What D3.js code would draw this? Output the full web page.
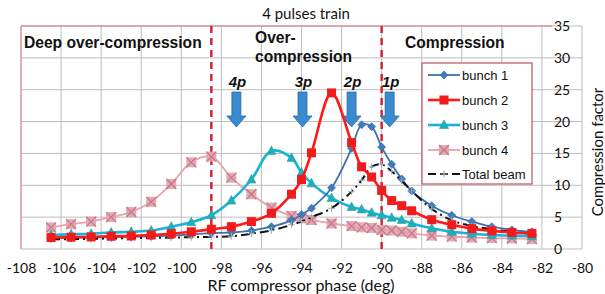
<!DOCTYPE html>
<html><head><meta charset="utf-8">
<script src="https://cdn.jsdelivr.net/npm/d3@7"></script>
<style>
body{margin:0;background:#fff;}
svg text{font-family:"Liberation Sans",Arial,sans-serif;}
</style></head>
<body><svg id="c" width="605" height="294"></svg>
<script>
const phases = [-106.5,-105.5,-104.5,-103.5,-102.5,-101.5,-100.5,-99.5,-98.5,-97.5,-96.5,-95.5,-94.5,-94,-93.5,-92.5,-91.5,-91,-90.5,-90,-89.5,-89,-88.5,-87.5,-86.5,-85.5,-84.5,-83.5,-82.5];
const bunch1 = [1.7,1.75,1.8,1.85,1.9,2.0,2.1,2.3,2.5,2.6,2.9,3.5,4.5,5.4,6.4,9.6,15.8,19.5,19.2,16.0,13.3,11.0,9.1,6.8,5.3,4.3,3.5,3.0,2.7];
const bunch2 = [1.8,1.85,1.9,2.0,2.05,2.2,2.4,2.7,3.1,3.5,4.3,5.6,8.6,10.9,15.1,24.5,16.7,12.9,11.3,9.2,7.6,6.8,6.0,4.6,3.8,3.2,2.85,2.6,2.45];
const bunch3 = [2.2,2.3,2.4,2.6,2.7,2.9,3.5,4.2,5.3,7.6,10.9,15.4,14.3,12.0,10.3,8.0,6.6,6.2,5.7,5.3,4.9,4.55,4.0,3.25,2.7,2.4,2.2,2.1,2.0];
const bunch4 = [3.4,3.9,4.3,5.0,5.8,7.4,10.2,13.6,14.5,11.2,8.6,6.5,5.2,4.8,4.55,4.0,3.6,3.4,3.3,3.0,2.9,2.7,2.45,2.1,1.95,1.8,1.7,1.65,1.55];
const totalBeam = [1.5,1.55,1.6,1.65,1.7,1.75,1.8,1.85,1.9,2.0,2.4,2.9,3.8,4.3,5.0,6.4,9.0,10.8,12.9,13.3,12.2,10.7,9.1,6.3,4.5,3.6,3.1,2.7,2.4];
const seriesNames = ["bunch 1","bunch 2","bunch 3","bunch 4","Total beam"];
const xTicks = [-108,-106,-104,-102,-100,-98,-96,-94,-92,-90,-88,-86,-84,-82,-80];
const yTicks = [0,5,10,15,20,25,30,35];
const regionLines = [-98.5,-90];
const arrowPhases = [-97.25,-93.95,-91.5,-89.6];
const arrowLabels = ["4p","3p","2p","1p"];
const chartTitle = "4 pulses train";
const xTitle = "RF compressor phase (deg)";
const yTitle = "Compression factor";

const svg = d3.select("#c");
const x = d3.scaleLinear().domain([-108,-80]).range([21,582]);
const y = d3.scaleLinear().domain([0,35]).range([249,26]);
const calib = "Lato, 'Open Sans', sans-serif";

// grid
svg.append("g").selectAll("line").data(xTicks).join("line")
  .attr("x1",d=>x(d)).attr("x2",d=>x(d)).attr("y1",y(35)).attr("y2",y(0))
  .attr("stroke","#bdbdbd").attr("stroke-width",1);
svg.append("g").selectAll("line").data(yTicks).join("line")
  .attr("x1",x(-108)).attr("x2",x(-80)).attr("y1",d=>y(d)).attr("y2",d=>y(d))
  .attr("stroke","#bdbdbd").attr("stroke-width",1);
// pink plot border
svg.append("line").attr("x1",x(-108)).attr("x2",x(-108)).attr("y1",y(35)).attr("y2",y(0)).attr("stroke","#d9969f").attr("stroke-width",1.3);
svg.append("line").attr("x1",x(-108)).attr("x2",x(-81.5)).attr("y1",y(35)).attr("y2",y(35)).attr("stroke","#d9969f").attr("stroke-width",1.3);

// axes
const xa = svg.append("g").attr("transform",`translate(0,${y(0)})`)
  .call(d3.axisBottom(x).tickValues(xTicks).tickSize(0).tickPadding(14).tickFormat(d=>String(d)));
xa.select(".domain").remove();
xa.selectAll("text").attr("font-size",14).attr("fill","#111").style("font-family",calib);
const ya = svg.append("g").attr("transform",`translate(${x(-81.5)},0)`)
  .call(d3.axisRight(y).tickValues(yTicks).tickSize(0).tickPadding(2).tickFormat(d=>String(d)));
ya.select(".domain").remove();
ya.selectAll("text").attr("font-size",14).attr("fill","#111").style("font-family",calib);

// titles
svg.append("text").attr("x",306).attr("y",19).attr("text-anchor","middle").attr("font-size",15).attr("fill","#111")
  .style("font-family",calib).text(chartTitle);
svg.append("text").attr("x",301).attr("y",291).attr("text-anchor","middle").attr("font-size",16).attr("fill","#111")
  .style("font-family",calib).text(xTitle);
svg.append("text").attr("transform","translate(603,152) rotate(-90)").attr("text-anchor","middle").attr("font-size",15).attr("fill","#111")
  .style("font-family",calib).text(yTitle);

// region labels
const reg = svg.append("g").attr("font-weight","bold").attr("font-size",15.6).attr("fill","#111");
reg.append("text").attr("x",24).attr("y",48).text("Deep over-compression");
reg.append("text").attr("x",255).attr("y",43).text("Over-");
reg.append("text").attr("x",255).attr("y",62).text("compression");
reg.append("text").attr("x",405).attr("y",48).text("Compression");

// vertical dashed red lines
svg.append("g").selectAll("line").data(regionLines).join("line")
  .attr("x1",d=>x(d)).attr("x2",d=>x(d)).attr("y1",y(35)).attr("y2",y(0))
  .attr("stroke","#d0202c").attr("stroke-width",2.4).attr("stroke-dasharray","7,5");

// arrows
const ag = svg.append("g");
arrowPhases.forEach((p,i)=>{
  const cx = x(p), top=92, hs=116, tip=127, sw=4.5, hw=9.5;
  ag.append("path").attr("d",`M${cx-sw},${top}L${cx+sw},${top}L${cx+sw},${hs}L${cx+hw},${hs}L${cx},${tip}L${cx-hw},${hs}L${cx-sw},${hs}Z`)
    .attr("fill","#3a8ad0").attr("stroke","#2a6aa8").attr("stroke-width",0.8);
  ag.append("text").attr("x",cx+1).attr("y",87).attr("text-anchor","middle").attr("font-size",15)
    .attr("font-weight","bold").attr("font-style","italic").attr("fill","#111").text(arrowLabels[i]);
});

const curve = d3.curveCatmullRom.alpha(0.5);
const mk = vals => phases.map((p,i)=>[p,vals[i]]);
const line = d3.line().x(d=>x(d[0])).y(d=>y(d[1])).curve(curve);

const styles = [
  {vals:bunch1, color:"#3b72ad", w:1.8, marker:"diamond", mfill:"#3f7cbf"},
  {vals:bunch2, color:"#ff1a1a", w:2.6, marker:"square", mfill:"#f21b1b"},
  {vals:bunch3, color:"#19b3da", w:2.6, marker:"triangle", mfill:"#17b0c8"},
  {vals:bunch4, color:"#eaa2ac", w:1.8, marker:"xsq", mfill:"#e2a0ab"},
  {vals:totalBeam, color:"#111", w:2, marker:"plus", mfill:"#9aa"}
];

function drawMarker(g, type, cx, cy, s){
  if(type==="diamond"){
    g.append("path").attr("d",`M${cx},${cy-4}L${cx+4},${cy}L${cx},${cy+4}L${cx-4},${cy}Z`).attr("fill",s.mfill).attr("stroke","#2f639c").attr("stroke-width",0.6);
  } else if(type==="square"){
    g.append("rect").attr("x",cx-4.5).attr("y",cy-4.5).attr("width",9).attr("height",9).attr("fill",s.mfill);
  } else if(type==="triangle"){
    g.append("path").attr("d",`M${cx},${cy-5}L${cx+4.5},${cy+3.5}L${cx-4.5},${cy+3.5}Z`).attr("fill",s.mfill).attr("stroke","#3aa07a").attr("stroke-width",0.6);
  } else if(type==="xsq"){
    g.append("rect").attr("x",cx-5).attr("y",cy-5).attr("width",10).attr("height",10).attr("fill",s.mfill).attr("opacity",0.9);
    g.append("path").attr("d",`M${cx-5},${cy-5}L${cx+5},${cy+5}M${cx+5},${cy-5}L${cx-5},${cy+5}`).attr("stroke","#c0788a").attr("stroke-width",1.2);
  } else if(type==="plus"){
    g.append("path").attr("d",`M${cx-3.5},${cy}L${cx+3.5},${cy}M${cx},${cy-3.5}L${cx},${cy+3.5}`).attr("stroke","#9bb0bb").attr("stroke-width",1);
  }
}

const order = [3,2,0,4,1];
order.forEach(k=>{
  const s = styles[k];
  const g = svg.append("g");
  const path = g.append("path").datum(mk(s.vals)).attr("d",line).attr("fill","none")
    .attr("stroke",s.color).attr("stroke-width",s.w);
  if(s.marker==="plus") path.attr("stroke-dasharray","9,4,2,4");
  mk(s.vals).forEach(d=>drawMarker(g,s.marker,x(d[0]),y(d[1]),s));
});

// legend
const lg = svg.append("g");
lg.append("rect").attr("x",422).attr("y",63).attr("width",110).attr("height",121).attr("fill","#fff").attr("stroke","#c0505e").attr("stroke-width",1.2);
const rowsY = [75,100,125,150,174];
styles.forEach((s,i)=>{
  const yy = rowsY[i];
  const l = lg.append("line").attr("x1",428).attr("x2",460).attr("y1",yy).attr("y2",yy).attr("stroke",s.color).attr("stroke-width",s.w);
  if(s.marker==="plus") l.attr("stroke-dasharray","8,4");
  drawMarker(lg,s.marker,444,yy,s);
  lg.append("text").attr("x",462).attr("y",yy+5).attr("font-size",13).attr("fill","#111").text(seriesNames[i]);
});
</script></body></html>
